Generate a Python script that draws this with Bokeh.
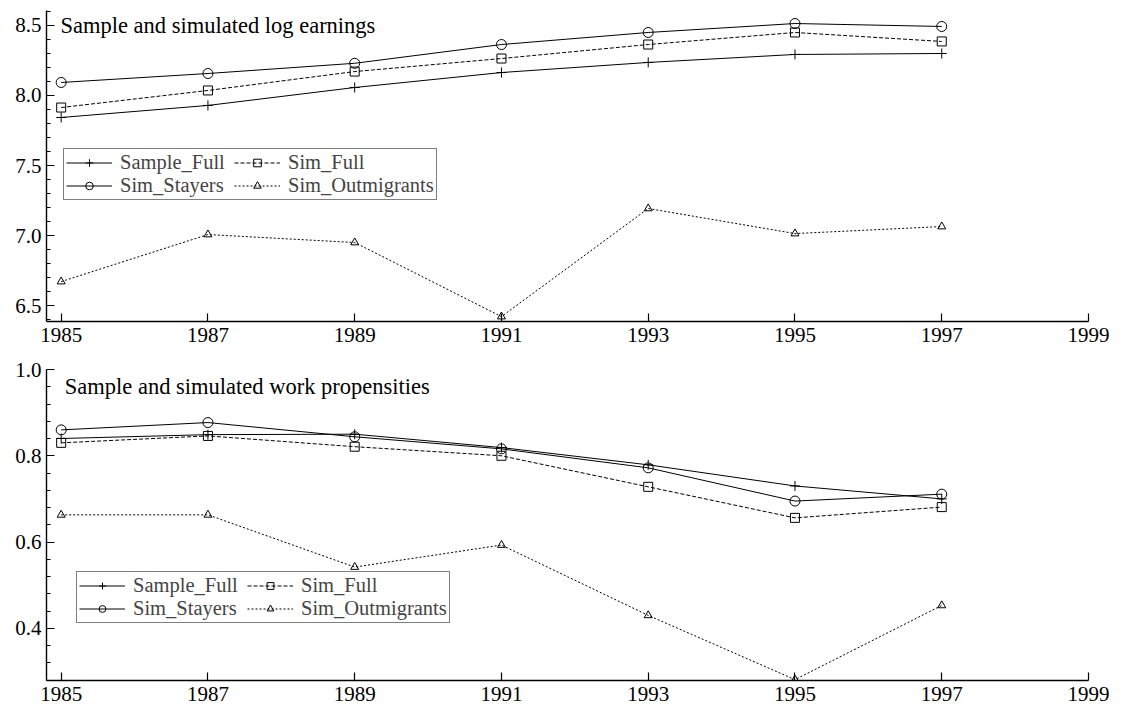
from bokeh.plotting import figure
from bokeh.layouts import column
from bokeh.models import FixedTicker, Label, Legend, LegendItem, ColumnDataSource, PrintfTickFormatter, Range1d
from bokeh.embed import file_html
from bokeh.resources import INLINE

years = [1985, 1987, 1989, 1991, 1993, 1995, 1997]
x_ticks = [1985, 1987, 1989, 1991, 1993, 1995, 1997, 1999]
series_names = ["Sample_Full", "Sim_Full", "Sim_Stayers", "Sim_Outmigrants"]

earn_sample_full = [7.843, 7.929, 8.057, 8.164, 8.236, 8.293, 8.300]
earn_sim_full = [7.914, 8.036, 8.171, 8.264, 8.364, 8.450, 8.386]
earn_sim_stayers = [8.093, 8.157, 8.230, 8.364, 8.450, 8.514, 8.493]
earn_sim_outmigrants = [6.671, 7.007, 6.950, 6.421, 7.193, 7.014, 7.064]

work_sample_full = [0.840, 0.849, 0.850, 0.819, 0.779, 0.730, 0.700]
work_sim_full = [0.830, 0.846, 0.821, 0.800, 0.728, 0.656, 0.681]
work_sim_stayers = [0.860, 0.877, 0.844, 0.816, 0.772, 0.695, 0.711]
work_sim_outmigrants = [0.663, 0.663, 0.542, 0.593, 0.430, 0.281, 0.453]

earn_major = [6.5, 7.0, 7.5, 8.0, 8.5]
earn_minor = [6.4, 6.6, 6.7, 6.8, 6.9, 7.1, 7.2, 7.3, 7.4, 7.6, 7.7, 7.8, 7.9, 8.1, 8.2, 8.3, 8.4, 8.6]
work_major = [0.4, 0.6, 0.8, 1.0]
work_minor = [0.28, 0.32, 0.36, 0.44, 0.48, 0.52, 0.56, 0.64, 0.68, 0.72, 0.76, 0.84, 0.88, 0.92, 0.96]

FONT = "Liberation Serif"

styles = {
    "Sample_Full": dict(marker="cross", size=10, dash="solid"),
    "Sim_Full": dict(marker="square", size=9, dash="4 2"),
    "Sim_Stayers": dict(marker="circle", size=10, dash="solid"),
    "Sim_Outmigrants": dict(marker="triangle", size=8, dash="2 2"),
}


def make_fig(values, y_range, y_major, y_minor, title, title_pos, legend_loc, row_h,
             height, border_top, border_bottom):
    p = figure(width=1113, height=height, output_backend="svg", toolbar_location=None,
               x_range=Range1d(1984.8, 1999.0), y_range=Range1d(*y_range),
               min_border_left=46, min_border_right=25,
               min_border_top=border_top, min_border_bottom=border_bottom)
    p.outline_line_color = None
    p.xgrid.visible = False
    p.ygrid.visible = False
    p.background_fill_color = "white"

    items = {}
    for name, ys in zip(series_names, values):
        st = styles[name]
        src = ColumnDataSource(dict(x=years, y=ys))
        ln = p.line("x", "y", source=src, line_color="black", line_width=1,
                    line_dash=st["dash"])
        sc = p.scatter("x", "y", source=src, marker=st["marker"], size=st["size"],
                       line_color="black", fill_color=None, line_width=1)
        items[name] = [ln, sc]

    legend = Legend(items=[LegendItem(label=n, renderers=items[n]) for n in series_names],
                    location=legend_loc, ncols=2, orientation="horizontal")
    legend.label_text_font = FONT
    legend.label_text_font_size = "20.5px"
    legend.border_line_color = "black"
    legend.border_line_width = 1
    legend.background_fill_alpha = 1
    legend.padding = 2
    legend.spacing = 0
    legend.margin = 0
    legend.glyph_width = 46
    legend.glyph_height = row_h
    legend.label_height = row_h
    legend.label_width = 114
    legend.label_standoff = 8
    p.add_layout(legend)

    p.xaxis.ticker = FixedTicker(ticks=x_ticks, minor_ticks=[])
    p.yaxis.ticker = FixedTicker(ticks=y_major, minor_ticks=y_minor)
    p.yaxis.formatter = PrintfTickFormatter(format="%.1f")
    for ax in (p.xaxis, p.yaxis):
        ax.major_tick_in = 8
        ax.major_tick_out = 0
        ax.minor_tick_in = 4
        ax.minor_tick_out = 0
        ax.axis_line_width = 1.4
        ax.major_tick_line_width = 1.2
        ax.minor_tick_line_width = 1.2
        ax.axis_line_color = "black"
        ax.major_label_text_font = FONT
        ax.major_label_text_font_size = "21px"
        ax.major_label_text_color = "black"
    p.xaxis.major_label_standoff = 6
    p.yaxis.major_label_standoff = 5

    lab = Label(x=title_pos[0], y=title_pos[1], text=title, text_font=FONT,
                text_font_size="22.5px", text_align="left", text_baseline="middle",
                text_color="black")
    p.add_layout(lab)
    return p


p1 = make_fig([earn_sample_full, earn_sim_full, earn_sim_stayers, earn_sim_outmigrants],
              (6.386, 8.607), earn_major, earn_minor,
              "Sample and simulated log earnings", (1984.99, 8.5), (17, 121), 19,
              357, 10, 36)
p2 = make_fig([work_sample_full, work_sim_full, work_sim_stayers, work_sim_outmigrants],
              (0.279, 1.0), work_major, work_minor,
              "Sample and simulated work propensities", (1985.05, 0.96), (30, 57), 17,
              355, 12, 32)

layout = column(p1, p2, spacing=0)
open("out.html", "w").write(file_html(layout, INLINE))
